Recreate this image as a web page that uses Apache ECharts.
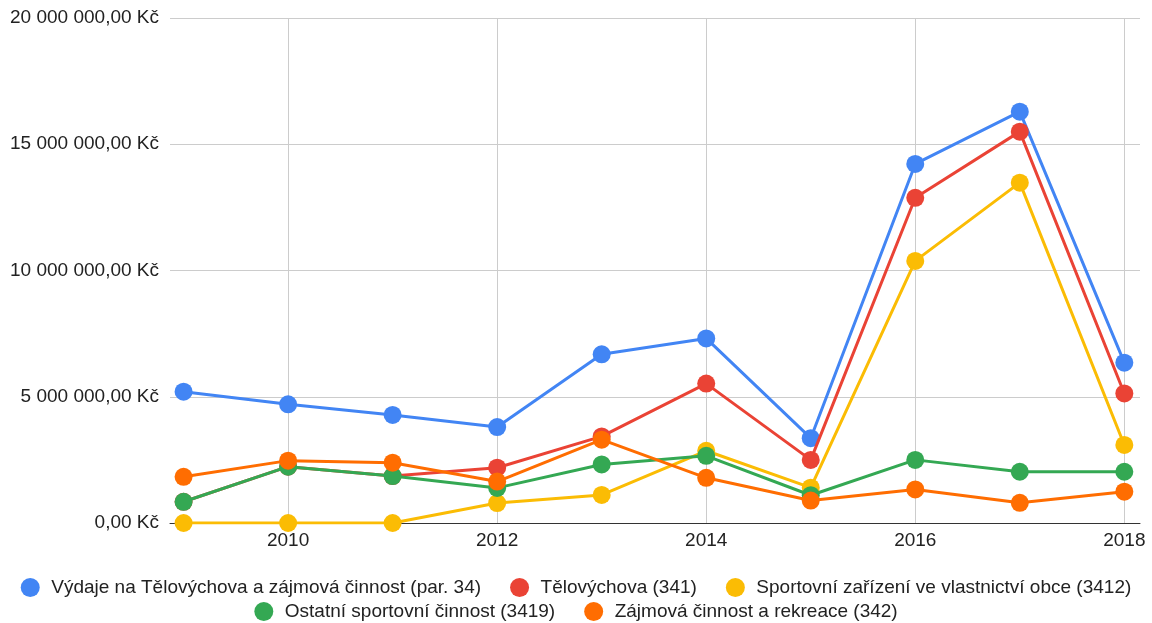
<!DOCTYPE html>
<html>
<head>
<meta charset="utf-8">
<script src="https://cdn.jsdelivr.net/npm/echarts@6/dist/echarts.min.js"></script>
<style>
  html, body { margin: 0; padding: 0; background: #fff; }
  #chart { width: 1152px; height: 623px; }
</style>
</head>
<body>
<div id="chart"></div>
<script>
  // roky a hodnoty (Kč)
  const years = [2009, 2010, 2011, 2012, 2013, 2014, 2015, 2016, 2017, 2018];
  const vydajeCelkem = [5200000, 4700000, 4280000, 3800000, 6680000, 7310000, 3360000, 14220000, 16290000, 6350000];
  const telovychova = [840000, 2230000, 1860000, 2190000, 3430000, 5520000, 2500000, 12880000, 15500000, 5130000];
  const sportZarizeni = [0, 0, 0, 790000, 1110000, 2860000, 1400000, 10380000, 13480000, 3090000];
  const ostatniSport = [840000, 2230000, 1860000, 1390000, 2320000, 2660000, 1100000, 2500000, 2030000, 2030000];
  const zajmovaCinnost = [1830000, 2470000, 2390000, 1640000, 3300000, 1790000, 890000, 1330000, 800000, 1240000];
  const xTicks = [2010, 2012, 2014, 2016, 2018];

  const names = [
    'Výdaje na Tělovýchova a zájmová činnost (par. 34)',
    'Tělovýchova (341)',
    'Sportovní zařízení ve vlastnictví obce (3412)',
    'Ostatní sportovní činnost (3419)',
    'Zájmová činnost a rekreace (342)'
  ];
  const colors = ['#4285F4', '#EA4335', '#FBBC04', '#34A853', '#FF6D01'];
  const values = [vydajeCelkem, telovychova, sportZarizeni, ostatniSport, zajmovaCinnost];

  const font = '"Liberation Sans", Arial, sans-serif';

  function kc(v) {
    let s = Math.round(v).toString().replace(/\B(?=(\d{3})+(?!\d))/g, ' ');
    return s + ',00 Kč';
  }

  let series = [];
  for (let i = 0; i < values.length; i++) {
    series.push({
      name: names[i],
      type: 'line',
      data: years.map((y, k) => [y, values[i][k]]),
      symbol: 'circle',
      symbolSize: 18,
      lineStyle: { width: 3, color: colors[i] },
      itemStyle: { color: colors[i] },
      emphasis: { disabled: true },
      z: 2 + i
    });
  }

  let legendBase = {
    left: 'center',
    padding: 0,
    icon: 'circle',
    itemWidth: 32,
    itemHeight: 19,
    itemGap: 29,
    textStyle: { fontFamily: font, fontSize: 19, color: '#222' }
  };

  let myChart = echarts.init(document.getElementById('chart'));
  let option = {
    animation: false,
    color: colors,
    grid: { left: 170, right: 12, top: 18, bottom: 100, containLabel: false },
    legend: [
      Object.assign({}, legendBase, { data: names.slice(0, 3), top: 578 }),
      Object.assign({}, legendBase, { data: names.slice(3), top: 602 })
    ],
    xAxis: {
      type: 'value',
      min: 2008.87,
      max: 2018.15,
      axisLine: { show: true, lineStyle: { color: '#333', width: 1 } },
      axisTick: { show: false, customValues: xTicks },
      axisLabel: {
        customValues: xTicks,
        color: '#222',
        fontFamily: font,
        fontSize: 19,
        margin: 8,
        formatter: v => String(v)
      },
      splitLine: { show: true, lineStyle: { color: '#ccc', width: 1 } }
    },
    yAxis: {
      type: 'value',
      min: 0,
      max: 20000000,
      interval: 5000000,
      axisLine: { show: false },
      axisTick: { show: false },
      axisLabel: {
        color: '#222',
        fontFamily: font,
        fontSize: 19,
        margin: 11,
        formatter: kc
      },
      splitLine: { show: true, lineStyle: { color: '#ccc', width: 1 } }
    },
    series: series
  };
  myChart.setOption(option);
</script>
</body>
</html>
